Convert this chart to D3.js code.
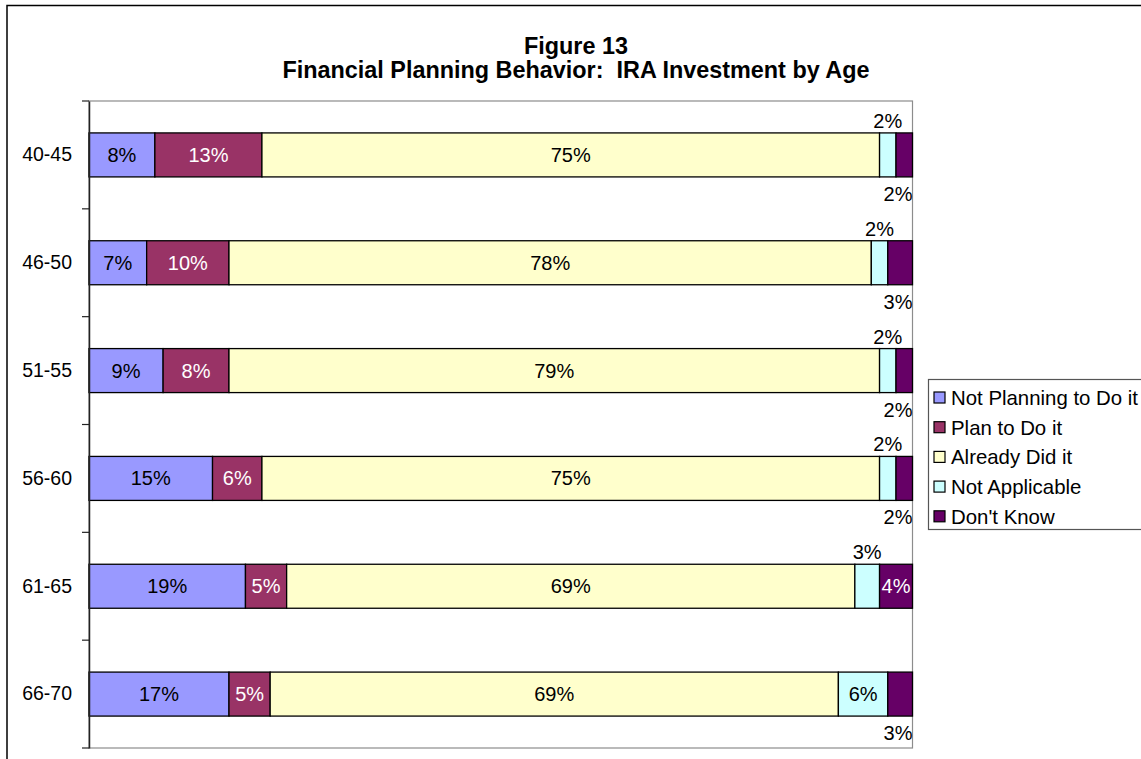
<!DOCTYPE html>
<html>
<head>
<meta charset="utf-8">
<script src="https://cdn.jsdelivr.net/npm/d3@7/dist/d3.min.js"></script>
<style>
  body { margin: 0; background: #fff; }
  svg { display: block; font-family: "Liberation Sans", Arial, sans-serif; }
</style>
</head>
<body>
<div id="container"></div>
<script>
const WIDTH = 1141;
const HEIGHT = 759;
const PLOT = { LEFT: 89, RIGHT: 912.5, TOP: 101, BOTTOM: 748 };

// datos
const ages = ['40-45', '46-50', '51-55', '56-60', '61-65', '66-70'];
const seriesNames = ['Not Planning to Do it', 'Plan to Do it', 'Already Did it', 'Not Applicable', "Don't Know"];
const notPlanning = [8, 7, 9, 15, 19, 17];
const planTo = [13, 10, 8, 6, 5, 5];
const alreadyDid = [75, 78, 79, 75, 69, 69];
const notApplicable = [2, 2, 2, 2, 3, 6];
const dontKnow = [2, 3, 2, 2, 4, 3];
const colors = ['#9999FF', '#993366', '#FFFFCC', '#CCFFFF', '#660066'];
const labelColors = ['#000', '#fff', '#000', '#000', '#fff'];

const table = ages.map((a, i) => ({
  age: a,
  'Not Planning to Do it': notPlanning[i],
  'Plan to Do it': planTo[i],
  'Already Did it': alreadyDid[i],
  'Not Applicable': notApplicable[i],
  "Don't Know": dontKnow[i]
}));

const stacked = d3.stack().keys(seriesNames)(table);

const svg = d3.select('#container')
  .append('svg')
    .attr('width', WIDTH)
    .attr('height', HEIGHT);

// marco exterior (solo se ve arriba y a la izquierda)
svg.append('rect')
  .attr('x', 7).attr('y', 5.5)
  .attr('width', 1200).attr('height', 800)
  .attr('fill', 'none').attr('stroke', '#000').attr('stroke-width', 1.5);

const x = d3.scaleLinear().domain([0, 100]).range([PLOT.LEFT, PLOT.RIGHT]);
const y = d3.scaleBand().domain(ages).range([PLOT.TOP, PLOT.BOTTOM])
  .paddingInner(0.592).paddingOuter(0.296);

// borde del area de datos
svg.append('rect')
  .attr('x', PLOT.LEFT).attr('y', PLOT.TOP)
  .attr('width', PLOT.RIGHT - PLOT.LEFT).attr('height', PLOT.BOTTOM - PLOT.TOP)
  .attr('fill', 'none').attr('stroke', '#8c8c8c').attr('stroke-width', 1.2);

// titulo
const title = svg.append('text')
  .attr('text-anchor', 'middle')
  .style('white-space', 'pre')
  .style('font-weight', 'bold').style('font-size', '23.4px');
title.append('tspan').attr('x', 576).attr('y', 54).text('Figure 13');
title.append('tspan').attr('x', 576).attr('y', 78).text('Financial Planning Behavior:  IRA Investment by Age');

// barras
const groups = svg.selectAll('.serie')
  .data(stacked)
  .enter()
  .append('g')
    .attr('class', 'serie')
    .attr('fill', (d, i) => colors[i]);

groups.selectAll('rect')
  .data(d => d)
  .enter()
  .append('rect')
    .attr('x', d => x(d[0]))
    .attr('y', d => y(d.data.age))
    .attr('width', d => x(d[1]) - x(d[0]))
    .attr('height', y.bandwidth())
    .attr('stroke', '#000')
    .attr('stroke-width', 1.3);

// etiquetas
const labels = [];
stacked.forEach((s, si) => {
  s.forEach(d => {
    const v = d[1] - d[0];
    const cx = (x(d[0]) + x(d[1])) / 2;
    const top = y(d.data.age);
    let pos = 'inside';
    if (v <= 3 && si === 3) pos = 'above';
    if (v <= 3 && si === 4) pos = 'below';
    labels.push({ v, cx, top, pos, si });
  });
});

svg.selectAll('.lbl')
  .data(labels)
  .enter()
  .append('text')
    .attr('class', 'lbl')
    .style('font-size', '20px')
    .attr('text-anchor', d => d.pos === 'below' ? 'end' : 'middle')
    .attr('x', d => d.pos === 'below' ? Math.min(d.cx + 14, PLOT.RIGHT) : d.cx)
    .attr('y', d => {
      if (d.pos === 'above') return d.top - 5;
      if (d.pos === 'below') return d.top + y.bandwidth() + 24;
      return d.top + y.bandwidth() / 2 + 7;
    })
    .attr('fill', d => d.pos === 'inside' ? labelColors[d.si] : '#000')
    .text(d => d.v + '%');

// eje Y
const yAxis = svg.append('g')
  .attr('transform', `translate(${PLOT.LEFT},0)`)
  .call(d3.axisLeft(y).tickSize(0).tickPadding(17));
yAxis.select('.domain').attr('stroke', '#222').attr('stroke-width', 1.5);
yAxis.selectAll('text').style('font-size', '19.5px').attr('fill', '#000')
  .style('font-family', '"Liberation Sans", Arial, sans-serif');

const bounds = d3.range(ages.length + 1).map(i => PLOT.TOP + i * y.step());
svg.selectAll('.ytick')
  .data(bounds)
  .enter()
  .append('line')
    .attr('class', 'ytick')
    .attr('x1', PLOT.LEFT - 7).attr('x2', PLOT.LEFT)
    .attr('y1', d => d).attr('y2', d => d)
    .attr('stroke', '#222').attr('stroke-width', 1.2);

// leyenda
const legend = svg.append('g');
legend.append('rect')
  .attr('x', 928.5).attr('y', 379.5)
  .attr('width', 300).attr('height', 150)
  .attr('fill', '#fff').attr('stroke', '#555').attr('stroke-width', 1.2);

const items = legend.selectAll('.item')
  .data(seriesNames)
  .enter()
  .append('g')
    .attr('class', 'item')
    .attr('transform', (d, i) => `translate(934, ${398 + i * 29.7})`);

items.append('rect')
  .attr('x', 0).attr('y', -6)
  .attr('width', 11).attr('height', 11)
  .attr('fill', (d, i) => colors[i])
  .attr('stroke', '#000').attr('stroke-width', 1.2);

items.append('text')
  .attr('x', 17).attr('y', 7)
  .style('font-size', '20.4px')
  .text(d => d);
</script>
</body>
</html>
